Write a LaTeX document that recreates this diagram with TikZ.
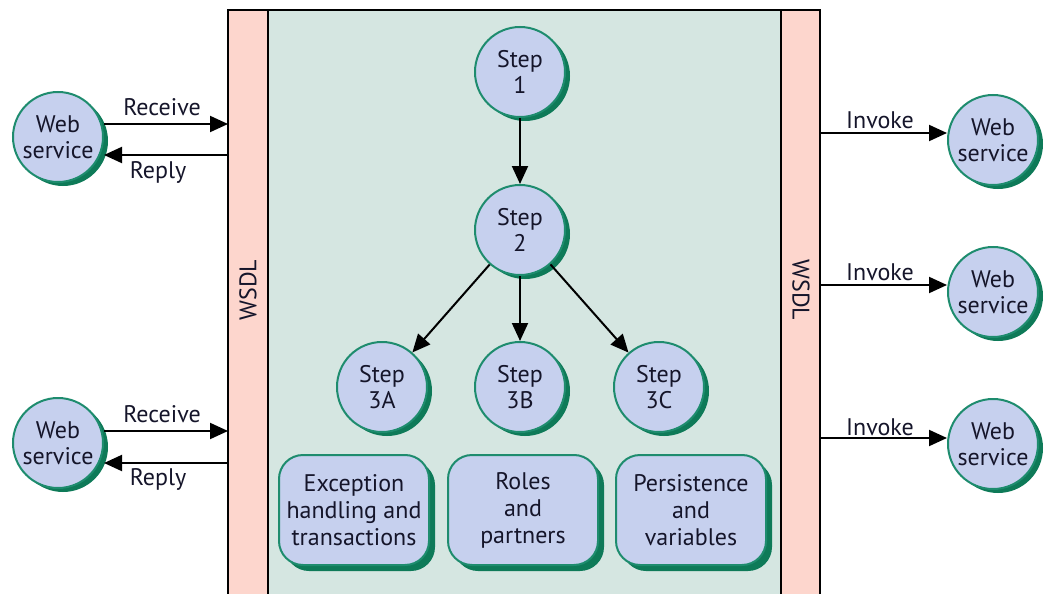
\documentclass[tikz,border=0pt]{standalone}
\usepackage{fontspec}
\setmainfont{PT Sans}
\usetikzlibrary{arrows.meta,shadows}
\definecolor{lav}{HTML}{C6D0EE}
\definecolor{rim}{HTML}{1E8C6E}
\definecolor{shade}{HTML}{0E7A58}
\definecolor{panel}{HTML}{D5E6E1}
\definecolor{bar}{HTML}{FDD6CD}
\definecolor{ink}{HTML}{15152A}
\tikzset{
  circ/.style={circle, minimum size=90pt, inner sep=0pt, fill=lav, draw=rim, line width=2pt,
    align=center, text=ink, font=\fontsize{24}{26}\selectfont,
    drop shadow={shadow xshift=5pt, shadow yshift=-4pt, fill=shade, opacity=1}},
  boxn/.style={rounded corners=24pt, minimum width=150pt, minimum height=110pt, inner sep=0pt,
    fill=lav, draw=rim, line width=2pt, align=center, text=ink, font=\fontsize{24}{27}\selectfont,
    drop shadow={shadow xshift=6pt, shadow yshift=-6pt, fill=shade, opacity=1}},
  arr/.style={line width=2pt, -{Triangle[length=18pt,width=16pt]}},
  lbl/.style={text=ink, font=\fontsize{24}{26}\selectfont, inner sep=0pt},
}
\begin{document}
\begin{tikzpicture}[x=1pt,y=-1pt]
\useasboundingbox (0,0) rectangle (1045,594);
% panels
\fill[bar] (228,10) rectangle (268,594);
\fill[panel] (268,10) rectangle (781,594);
\fill[bar] (781,10) rectangle (820,594);
\draw[line width=1.8pt] (228,594) -- (228,10) -- (820,10) -- (820,594);
\draw[line width=1.8pt] (268,10) -- (268,594);
\draw[line width=1.8pt] (781,10) -- (781,594);
\node[lbl, rotate=90] (wsdlL) at (248,290) {WSDL};
\node[lbl, rotate=-90] (wsdlR) at (801,290) {WSDL};
% step nodes
\node[circ] (s1) at (520,72) {Step\\1};
\node[circ] (s2) at (520,230) {Step\\2};
\node[circ] (s3a) at (382,387) {Step\\3A};
\node[circ] (s3b) at (520,387) {Step\\3B};
\node[circ] (s3c) at (659,387) {Step\\3C};
\draw[arr] (s1) -- (s2);
\draw[arr] (s2) -- (s3a);
\draw[arr] (s2) -- (s3b);
\draw[arr] (s2) -- (s3c);
% boxes
\node[boxn] (b1) at (354,510) {Exception\\handling and\\transactions};
\node[boxn] (b2) at (523,510) {Roles\\and\\partners};
\node[boxn] (b3) at (691,510) {Persistence\\and\\variables};
% left web services
\node[circ] (wl1) at (58,137) {Web\\service};
\node[circ] (wl2) at (58,443) {Web\\service};
\coordinate (rc1) at (228,124);
\coordinate (rp1) at (228,155);
\coordinate (rc2) at (228,431);
\coordinate (rp2) at (228,463);
\draw[arr] (wl1.east |- rc1) -- (rc1);
\draw[arr] (rp1) -- (wl1.east |- rp1);
\draw[arr] (wl2.east |- rc2) -- (rc2);
\draw[arr] (rp2) -- (wl2.east |- rp2);
\node[lbl] (lr1) at (162,107) {Receive};
\node[lbl] (lp1) at (158,172) {Reply};
\node[lbl] (lr2) at (162,414) {Receive};
\node[lbl] (lp2) at (158,479) {Reply};
% right web services
\node[circ] (wr1) at (993,140) {Web\\service};
\node[circ] (wr2) at (993,292) {Web\\service};
\node[circ] (wr3) at (993,444) {Web\\service};
\coordinate (iv1) at (820,133);
\coordinate (iv2) at (820,285);
\coordinate (iv3) at (820,438);
\draw[arr] (iv1) -- (wr1.west |- iv1);
\draw[arr] (iv2) -- (wr2.west |- iv2);
\draw[arr] (iv3) -- (wr3.west |- iv3);
\node[lbl] (li1) at (880,120) {Invoke};
\node[lbl] (li2) at (880,272) {Invoke};
\node[lbl] (li3) at (880,427) {Invoke};
\end{tikzpicture}
\end{document}
